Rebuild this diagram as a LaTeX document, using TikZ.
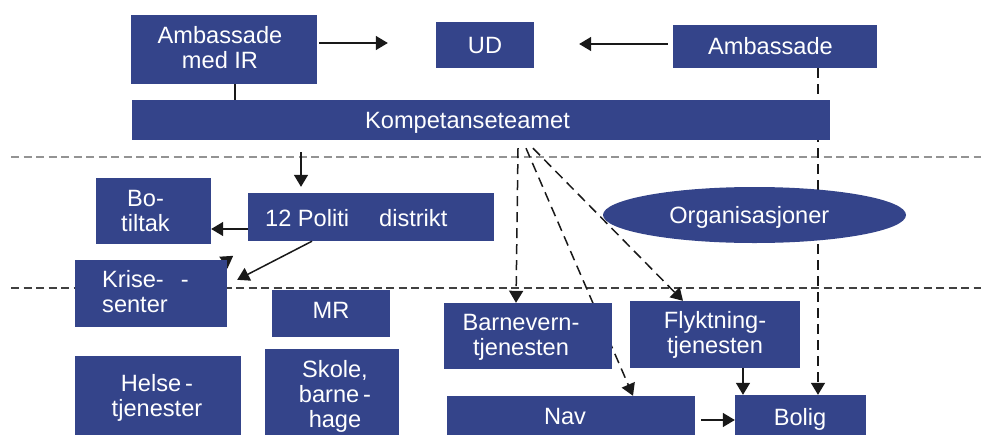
\documentclass[tikz,border=0pt]{standalone}
\usepackage{fontspec}
\setmainfont{Liberation Sans}
\usetikzlibrary{arrows.meta,calc,shapes.geometric}
\definecolor{boxblue}{RGB}{52,68,138}
\newcommand{\dfont}{\fontsize{23.6}{25}\selectfont}
\pgfdeclarelayer{back}
\pgfdeclarelayer{bg}
\pgfsetlayers{back,bg,main}
\begin{document}
\begin{tikzpicture}[x=1pt,y=-1pt,
  box/.style={fill=boxblue,draw=none,inner sep=0pt},
  lbl/.style={text=white,font=\dfont,align=center,inner sep=0pt},
  arr/.style={draw=black!90,line width=1.5pt,-{Triangle[length=12pt,width=14pt]}},
  darr/.style={arr,dash pattern=on 10pt off 6pt},
  sepline/.style={line width=1.3pt,dash pattern=on 8pt off 4.5pt}]
\useasboundingbox (0,0) rectangle (981,434);
\clip (0,0) rectangle (981,434);
\begin{pgfonlayer}{back}
\fill[white] (0,0) rectangle (981,434);
\end{pgfonlayer}

% boxes
\node[box, minimum width=186, minimum height=69] (ambir) at (224,49.5) {};
\node[box, minimum width=98, minimum height=46] (ud) at (485,45) {};
\node[box, minimum width=204, minimum height=43] (amb) at (775,46.5) {};
\node[box, minimum width=698, minimum height=40] (komp) at (481,120) {};
\node[box, minimum width=246, minimum height=48] (politi) at (371,217) {};
\node[box, minimum width=115, minimum height=66] (botiltak) at (153.5,211) {};
\node[box, minimum width=152, minimum height=67] (krise) at (151,293.5) {};
\node[box, minimum width=118, minimum height=47] (mr) at (331,313.5) {};
\node[box, minimum width=166, minimum height=83] (helse) at (158,397.5) {};
\node[box, minimum width=134, minimum height=95] (skole) at (332,396.5) {};
\node[box, minimum width=168, minimum height=66] (barn) at (528,336) {};
\node[box, minimum width=170, minimum height=67] (flykt) at (715,334.5) {};
\node[box, minimum width=248, minimum height=40] (nav) at (571,416) {};
\node[box, minimum width=131, minimum height=41] (bolig) at (800.5,415.5) {};
\node[box, ellipse, minimum width=303, minimum height=56] (org) at (754.5,215) {};

% texts
\node[lbl] (t-ambir) at (220,47.9) {Ambassade\\med IR};
\node[lbl, anchor=base] (t-ud) at (485,53) {UD};
\node[lbl, anchor=base] (t-amb) at (770.5,54.3) {Ambassade};
\node[lbl, anchor=base] (t-komp) at (467.5,128) {Kompetanseteamet};
\node[lbl, anchor=base west] (t-politi) at (265,226.7) {12 Politi\hspace{30pt}distrikt};
\node[lbl] (t-bo) at (145.5,210.5) {Bo-\\tiltak};
\node[lbl, anchor=west, align=left] (t-krise) at (102,292) {Krise-\hspace{17pt}-\\senter};
\node[lbl, anchor=base] (t-mr) at (331,318) {MR};
\node[lbl] (t-helse) at (157,397.5) {Helse\,-\\tjenester};
\node[lbl] (t-skole) at (335,396.5) {Skole,\\barne\,-\\hage};
\node[lbl] (t-barn) at (521,337.5) {Barnevern-\\tjenesten};
\node[lbl] (t-flykt) at (715,335.3) {Flyktning-\\tjenesten};
\node[lbl, anchor=base] (t-nav) at (565,424) {Nav};
\node[lbl, anchor=base] (t-bolig) at (800,425.7) {Bolig};
\node[lbl, anchor=base] (t-org) at (749.3,223.3) {Organisasjoner};

\coordinate (cx) at (818,0);
\coordinate (c235) at (235,0);
\coordinate (c743) at (743,0);
\coordinate (k1) at (301,152);

% background connectors (hidden behind boxes)
\begin{pgfonlayer}{bg}
\draw[sepline, gray!85] (11,157) -- (981,157);
\draw[sepline, black!75] (11,288) -- (981,288);
\draw[darr] (amb.south -| cx) -- (bolig.north -| cx);
\draw[darr] ($(komp.south)+(37,8)$) -- ($(barn.north)+(-12,0)$);
\draw[darr] ($(komp.south)+(45,8)$) -- ($(nav.north)+(62,0)$);
\draw[darr] ($(komp.south)+(52,8)$) -- ($(flykt.north)+(-32,0)$);
\draw[arr] ($(krise.north east)+(-20,14)$) -- ($(krise.north east)+(6,-4)$);
\end{pgfonlayer}

% solid connectors
\draw[line width=1.5pt, black!90] (ambir.south -| c235) -- (komp.north -| c235);
\draw[arr] ($(ambir.east)+(2,-6.5)$) -- ($(ud.west)+(-48,-2)$);
\draw[arr] ($(amb.west)+(-5,-2.5)$) -- ($(ud.east)+(45,-1)$);
\draw[arr, shorten >=6pt] (k1) -- (k1 |- politi.north);
\draw[arr] ($(politi.west)+(0,12)$) -- ($(botiltak.east)+(0,18)$);
\draw[arr] ($(politi.south)+(-59,0)$) -- ($(krise.north east)+(10,20)$);
\draw[arr] (flykt.south -| c743) -- (bolig.north -| c743);
\draw[arr] ($(nav.east)+(6,4)$) -- ($(bolig.west)+(0,4.5)$);
\end{tikzpicture}
\end{document}
